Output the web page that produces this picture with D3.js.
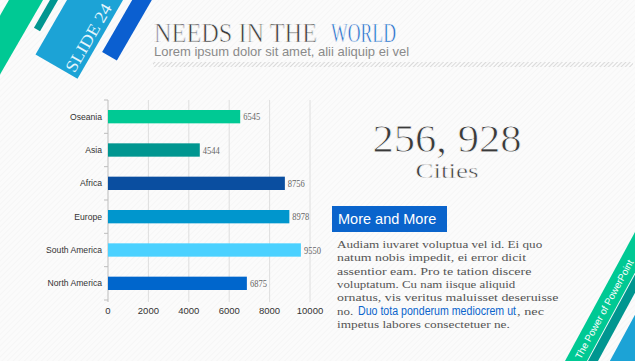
<!DOCTYPE html>
<html>
<head>
<meta charset="utf-8">
<script src="https://cdn.jsdelivr.net/npm/d3@7"></script>
<style>
  body { margin: 0; background: #fafafa; overflow: hidden; }
  svg { display: block; }
</style>
</head>
<body>
<script>
// chart data
var regions = ['Oseania', 'Asia', 'Africa', 'Europe', 'South America', 'North America'];
var cities = [6545, 4544, 8756, 8978, 9550, 6875];
var barColors = ['#00c994', '#009690', '#0a4ea0', '#0096cd', '#4bd1ff', '#0066cc'];
var xTicks = [0, 2000, 4000, 6000, 8000, 10000];

var bodyLines = [
  'Audiam iuvaret voluptua vel id. Ei quo',
  'natum nobis impedit, ei error dicit',
  'assentior eam. Pro te tation discere',
  'voluptatum. Cu nam iisque aliquid',
  'ornatus, vis veritus maluisset deseruisse'
];

var W = 635, H = 361;
var svg = d3.select('body').append('svg')
    .attr('width', W)
    .attr('height', H);

var defs = svg.append('defs');

// faint diagonal texture of the slide
var bgPat = defs.append('pattern')
    .attr('id', 'bgtex')
    .attr('width', 4).attr('height', 4)
    .attr('patternUnits', 'userSpaceOnUse')
    .attr('patternTransform', 'rotate(45)');
bgPat.append('rect').attr('width', 4).attr('height', 4).attr('fill', '#fbfbfb');
bgPat.append('line').attr('x1', 0).attr('y1', 0).attr('x2', 0).attr('y2', 4)
    .attr('stroke', '#f1f1f1').attr('stroke-width', 1);

var hatch = defs.append('pattern')
    .attr('id', 'hatch')
    .attr('width', 3).attr('height', 3)
    .attr('patternUnits', 'userSpaceOnUse')
    .attr('patternTransform', 'rotate(45)');
hatch.append('line').attr('x1', 0).attr('y1', 0).attr('x2', 0).attr('y2', 3)
    .attr('stroke', '#c4c4c4').attr('stroke-width', 1.2);

svg.append('rect').attr('width', W).attr('height', H).attr('fill', 'url(#bgtex)');

// decorative stripes, rotated so they run up-right
function stripe(cx, cy, ang, x0, x1, thick, color) {
    var g = svg.append('g').attr('transform', 'translate(' + cx + ',' + cy + ') rotate(' + (-ang) + ')');
    g.append('rect')
        .attr('x', x0).attr('y', -thick / 2)
        .attr('width', x1 - x0).attr('height', thick)
        .attr('fill', color);
    return g;
}

stripe(26, 0, 60, -200, 60, 29.5, '#00c994');
stripe(54, 0, 60, -34, 20, 7, '#009690');
var slide = stripe(95, 0, 60, -77, 40, 48.5, '#1ca3d6');
slide.append('text')
    .attr('x', -36).attr('y', 19)
    .attr('text-anchor', 'middle')
    .attr('font-family', 'Liberation Serif')
    .attr('font-size', 17)
    .attr('fill', '#e3f5fc')
    .attr('textLength', 76)
    .attr('lengthAdjust', 'spacingAndGlyphs')
    .text('SLIDE 24');
stripe(142, 0, 60, -65, 40, 17, '#0b5fd0');

var power = stripe(576, 361, 61.5, -20, 200, 19.3, '#00c994');
power.append('text')
    .attr('x', 59).attr('y', 3.5)
    .attr('text-anchor', 'middle')
    .attr('font-family', 'Liberation Sans')
    .attr('font-size', 9.8)
    .attr('fill', '#ffffff')
    .text('The Power of PowerPoint');
stripe(593, 361, 61.5, -20, 200, 8.8, '#009690');
stripe(644, 361, 61.5, -20, 200, 60, '#1ca3d6');

// serif text squeezed to the reference width, thinned with a bg-coloured stroke
function thinText(str, xx, yy, size, len, color, anchor, thin) {
    return svg.append('text')
        .attr('x', xx).attr('y', yy)
        .attr('text-anchor', anchor || 'start')
        .attr('font-family', 'Liberation Serif')
        .attr('font-size', size)
        .attr('fill', color)
        .attr('stroke', '#fafafa')
        .attr('stroke-width', thin || 0)
        .attr('textLength', len)
        .attr('lengthAdjust', 'spacingAndGlyphs')
        .text(str);
}
thinText('NEEDS IN THE', 154, 42, 28, 163, '#3a3a3a', 'start', 0.7);
thinText('WORLD', 331, 42, 28, 65, '#1566c8', 'start', 0.7);

svg.append('text')
    .attr('x', 154).attr('y', 56)
    .attr('font-family', 'Liberation Sans')
    .attr('font-size', 13)
    .attr('fill', '#8a8a8a')
    .text('Lorem ipsum dolor sit amet, alii aliquip ei vel');
svg.append('rect')
    .attr('x', 153).attr('y', 62)
    .attr('width', 480).attr('height', 5)
    .attr('fill', 'url(#hatch)');

// bar chart
var x = d3.scaleLinear().domain([0, 10000]).range([108, 310]);
var y = d3.scaleBand().domain(regions).range([100, 300])
    .paddingInner(0.6).paddingOuter(0.3);

var chart = svg.append('g');

chart.selectAll('.grid')
    .data(xTicks.slice(1))
    .enter()
    .append('line')
    .attr('x1', function(d){ return x(d); })
    .attr('x2', function(d){ return x(d); })
    .attr('y1', 100).attr('y2', 302)
    .attr('stroke', '#dedede').attr('stroke-width', 1);

chart.append('line')
    .attr('x1', x(0)).attr('x2', x(0))
    .attr('y1', 100).attr('y2', 302)
    .attr('stroke', '#bdbdbd');

var bounds = regions.map(function(r){ return y(r) + y.bandwidth() / 2 - y.step() / 2; });
bounds.push(300);
chart.selectAll('.ytick')
    .data(bounds)
    .enter()
    .append('line')
    .attr('x1', x(0) - 4).attr('x2', x(0))
    .attr('y1', function(d){ return d; })
    .attr('y2', function(d){ return d; })
    .attr('stroke', '#bdbdbd');

chart.selectAll('.bar')
    .data(regions)
    .enter()
    .append('rect')
    .attr('x', x(0))
    .attr('y', function(d){ return y(d); })
    .attr('width', function(d, i){ return x(cities[i]) - x(0); })
    .attr('height', y.bandwidth())
    .attr('fill', function(d, i){ return barColors[i]; });

chart.selectAll('.val')
    .data(regions)
    .enter()
    .append('text')
    .attr('x', function(d, i){ return x(cities[i]) + 3; })
    .attr('y', function(d){ return y(d) + y.bandwidth() / 2 + 3.5; })
    .attr('font-family', 'Liberation Serif')
    .attr('font-size', 10)
    .attr('fill', '#666')
    .attr('textLength', 17)
    .attr('lengthAdjust', 'spacingAndGlyphs')
    .text(function(d, i){ return cities[i]; });

chart.selectAll('.cat')
    .data(regions)
    .enter()
    .append('text')
    .attr('x', 102)
    .attr('y', function(d){ return y(d) + y.bandwidth() / 2 + 3; })
    .attr('text-anchor', 'end')
    .attr('font-family', 'Liberation Sans')
    .attr('font-size', 8.6)
    .attr('fill', '#333')
    .text(function(d){ return d; });

chart.selectAll('.xlab')
    .data(xTicks)
    .enter()
    .append('text')
    .attr('x', function(d){ return x(d); })
    .attr('y', 314)
    .attr('text-anchor', 'middle')
    .attr('font-family', 'Liberation Sans')
    .attr('font-size', 9.5)
    .attr('fill', '#333')
    .text(function(d){ return d; });

// big number
thinText('256, 928', 447, 152, 40, 149, '#3a3a3a', 'middle', 0.8);
thinText('Cities', 447, 178, 21, 63, '#3a3a3a', 'middle', 0.5);

// "More and More" box + paragraph
svg.append('rect')
    .attr('x', 332).attr('y', 206)
    .attr('width', 115).attr('height', 26)
    .attr('fill', '#0a64cc');
svg.append('text')
    .attr('x', 338).attr('y', 224)
    .attr('font-family', 'Liberation Sans')
    .attr('font-size', 14.5)
    .attr('fill', '#fff')
    .text('More and More');

var cw = 5.4;
function mono(str, xx, yy) {
    svg.append('text')
        .attr('x', xx).attr('y', yy)
        .attr('font-family', 'Liberation Serif')
        .attr('font-size', 11)
        .attr('fill', '#555')
        .attr('textLength', str.length * cw)
        .attr('lengthAdjust', 'spacingAndGlyphs')
        .text(str);
}
bodyLines.forEach(function(s, i){ mono(s, 337, 248 + i * 13.3); });
var y6 = 248 + 5 * 13.3;
mono('no.', 337, y6);
svg.append('text')
    .attr('x', 358).attr('y', y6)
    .attr('font-family', 'Liberation Sans')
    .attr('font-size', 12)
    .attr('fill', '#0a64cc')
    .attr('textLength', 158)
    .attr('lengthAdjust', 'spacingAndGlyphs')
    .text('Duo tota ponderum mediocrem ut');
mono(', nec', 517, y6);
mono('impetus labores consectetuer ne.', 337, 248 + 6 * 13.3);
</script>
</body>
</html>
